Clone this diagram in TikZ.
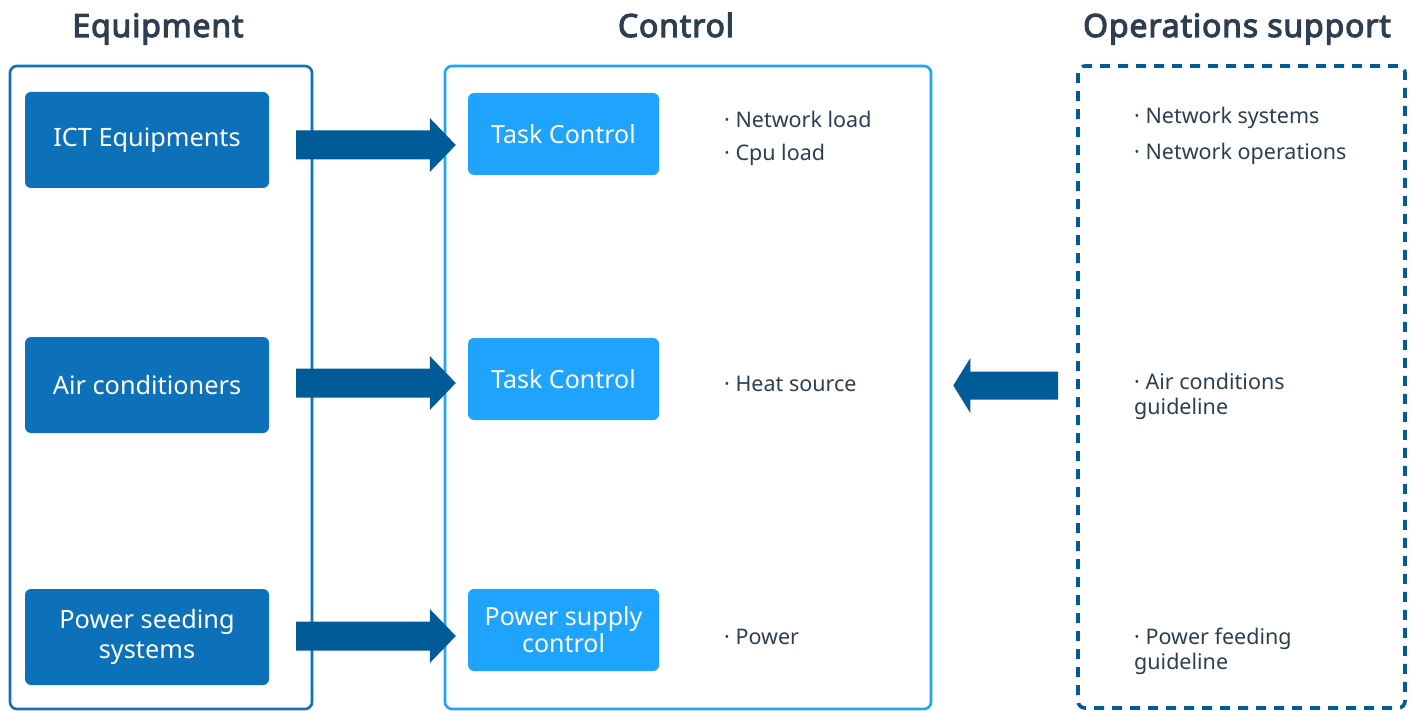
\documentclass[tikz,border=0pt]{standalone}
\usepackage{fontspec}
\setmainfont{Noto Sans}
\newfontfamily\headfont{Noto Sans}[FakeBold=3.4, LetterSpace=2.6]
\usetikzlibrary{calc}

\definecolor{equipblue}{HTML}{0C71B9}
\definecolor{ctrlblue}{HTML}{1EA4FC}
\definecolor{deepblue}{HTML}{005B96}
\definecolor{inkslate}{HTML}{2C3E50}

\tikzset{
  heading/.style={font=\headfont\fontsize{32}{38}\selectfont, text=inkslate, inner sep=0pt, anchor=base},
  panel/.style={draw, line width=2.6pt, rounded corners=7pt, inner sep=0pt},
  equipbox/.style={fill=equipblue, text=white, rounded corners=6pt, minimum width=244pt,
    minimum height=96pt, align=center, inner sep=0pt, font=\fontsize{25.3}{30}\selectfont},
  ctrlbox/.style={fill=ctrlblue, text=white, rounded corners=6pt, minimum width=191pt,
    minimum height=82pt, align=center, inner sep=0pt, font=\fontsize{25}{29}\selectfont},
  bullet/.style={anchor=west, inner sep=0pt, text=inkslate, align=left,
    font=\fontsize{21.5}{25}\selectfont},
  blockarrow/.style n args={3}{to path={let \p1=(\tikztostart), \p2=(\tikztotarget) in
    (\x1,\y2+#1) -- ({\x2-(#3)},\y2+#1) -- ({\x2-(#3)},\y2+#2) -- (\x2,\y2)
    -- ({\x2-(#3)},\y2-#2) -- ({\x2-(#3)},\y2-#1) -- (\x1,\y2-#1) -- cycle}},
}

\begin{document}
\begin{tikzpicture}[x=1pt, y=-1pt]
\useasboundingbox (0,0) rectangle (1413,711);

% column headings
\node[heading] (hEquip) at (158,37) {Equipment};
\node[heading] (hCtrl) at (676,37) {Control};
\node[heading] (hOps) at (1237,37) {Operations support};

% column frames
\node[panel, draw=equipblue, minimum width=302pt, minimum height=643pt] (equip) at (161,387.5) {};
\node[panel, draw=ctrlblue, minimum width=486pt, minimum height=643pt] (ctrl) at (688,387.5) {};
\node[panel, draw=deepblue, line width=3.6pt, dash pattern=on 10pt off 8pt,
  minimum width=327pt, minimum height=642pt] (ops) at (1241.5,387) {};

% equipment
\node[equipbox] (ict) at (147,140) {ICT Equipments};
\node[equipbox] (air) at (147,385) {Air conditioners};
\node[equipbox] (pfs) at (147,637) {Power seeding\\systems};

% control
\node[ctrlbox] (tc1) at (563.5,134) {Task Control};
\node[ctrlbox] (tc2) at (563.5,379) {Task Control};
\node[ctrlbox] (psc) at (563.5,630) {Power supply\\[-2pt]control};

% control inputs
\node[bullet] (b1) at (724,119) {· Network load};
\node[bullet] (b2) at (724,155) {· Cpu load};
\node[bullet] (b3) at (724,384) {· Heat source};
\node[bullet] (b4) at (724,637) {· Power};

% operations support items
\node[bullet] (o1) at (1134,118) {· Network systems};
\node[bullet] (o2) at (1134,153.5) {· Network operations};
\node[bullet] (o3) at (1134,396.5) {· Air conditions\\guideline};
\node[bullet] (o4) at (1134,651.5) {· Power feeding\\guideline};

% arrow end points
\coordinate (a1s) at ($(ict.east)+(27,5)$);
\coordinate (a1t) at ($(tc1.west)+(-12,11)$);
\coordinate (a2s) at ($(air.east)+(27,-2)$);
\coordinate (a2t) at ($(tc2.west)+(-12,4)$);
\coordinate (a3s) at ($(pfs.east)+(27,-1)$);
\coordinate (a3t) at ($(psc.west)+(-12,6)$);
\coordinate (a4s) at ($(ops.west)+(-18,-2)$);
\coordinate (a4t) at ($(ctrl.east)+(21,-2)$);

% block arrows
\fill[deepblue] (a1s) to[blockarrow={14.5pt}{27pt}{26pt}] (a1t);
\fill[deepblue] (a2s) to[blockarrow={14.5pt}{27pt}{26pt}] (a2t);
\fill[deepblue] (a3s) to[blockarrow={14.5pt}{27pt}{26pt}] (a3t);
\fill[deepblue] (a4s) to[blockarrow={14pt}{27.5pt}{-17pt}] (a4t);
\end{tikzpicture}
\end{document}
